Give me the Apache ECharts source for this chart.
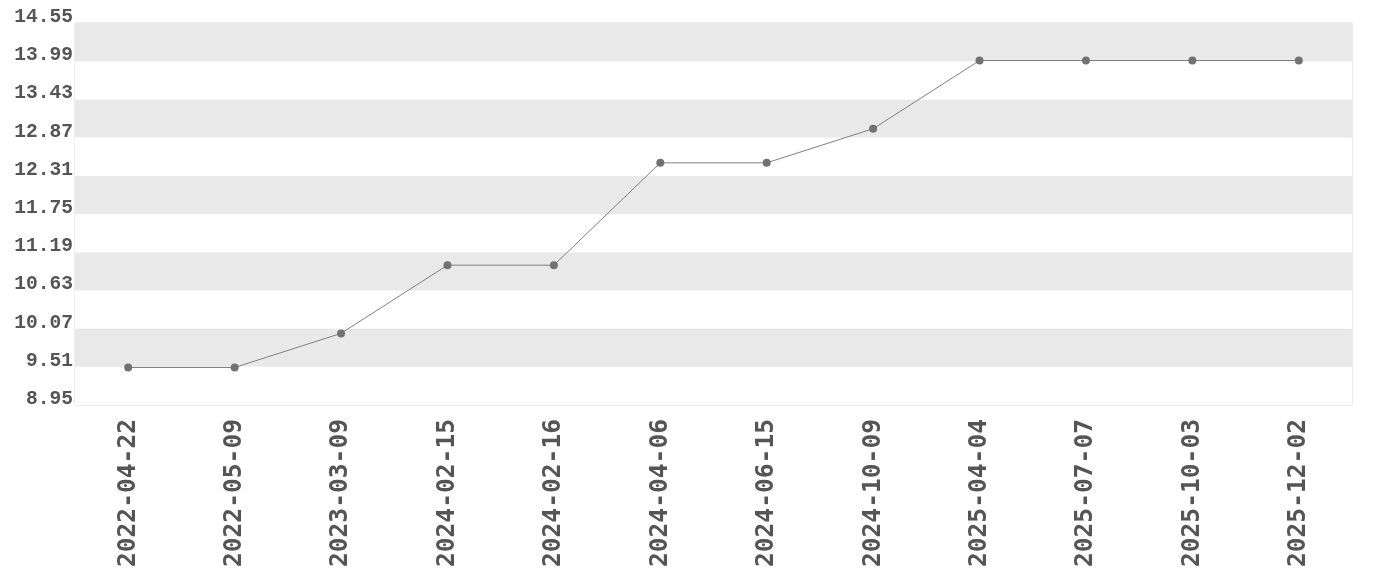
<!DOCTYPE html>
<html><head><meta charset="utf-8">
<script src="https://cdn.jsdelivr.net/npm/echarts@6/dist/echarts.min.js"></script>
<style>html,body{margin:0;padding:0;background:#fff}#c{width:1380px;height:580px}</style>
</head><body><div id="c"></div>
<script>
const categories = ['2022-04-22','2022-05-09','2023-03-09','2024-02-15','2024-02-16','2024-04-06','2024-06-15','2024-10-09','2025-04-04','2025-07-07','2025-10-03','2025-12-02'];
const values = [9.5, 9.5, 10.0, 11.0, 11.0, 12.5, 12.5, 13.0, 14.0, 14.0, 14.0, 14.0];
const yMin = 8.95, yMax = 14.55, yStep = 0.56;

const chart = echarts.init(document.getElementById('c'));
chart.setOption({
  animation: false,
  grid: {left: 75, right: 28, top: 23, bottom: 175, show: true, borderColor: '#ddd', borderWidth: 1, backgroundColor: 'transparent'},
  xAxis: {
    type: 'category', data: categories, boundaryGap: true,
    axisLine: {show: false}, axisTick: {show: false}, splitLine: {show: false},
    axisLabel: {rotate: 90, interval: 0, margin: 14, color: '#555', fontFamily: 'DejaVu Sans Mono', fontWeight: 'bold', fontSize: 24.6}
  },
  yAxis: {
    type: 'value', min: yMin, max: yMax, interval: yStep,
    axisLine: {show: false}, axisTick: {show: false}, splitLine: {show: false},
    splitArea: {show: true, areaStyle: {color: ['#ffffff', '#e9e9e9']}},
    axisLabel: {margin: 2, color: '#555', fontFamily: 'Liberation Mono', fontWeight: 'bold', fontSize: 19.6,
      verticalAlign: 'bottom', lineHeight: 12, formatter: v => v.toFixed(2)}
  },
  series: [{
    type: 'line', data: values, symbol: 'circle', symbolSize: 8,
    lineStyle: {color: '#808080', width: 1}, itemStyle: {color: '#727272'}
  }]
});
</script></body></html>
